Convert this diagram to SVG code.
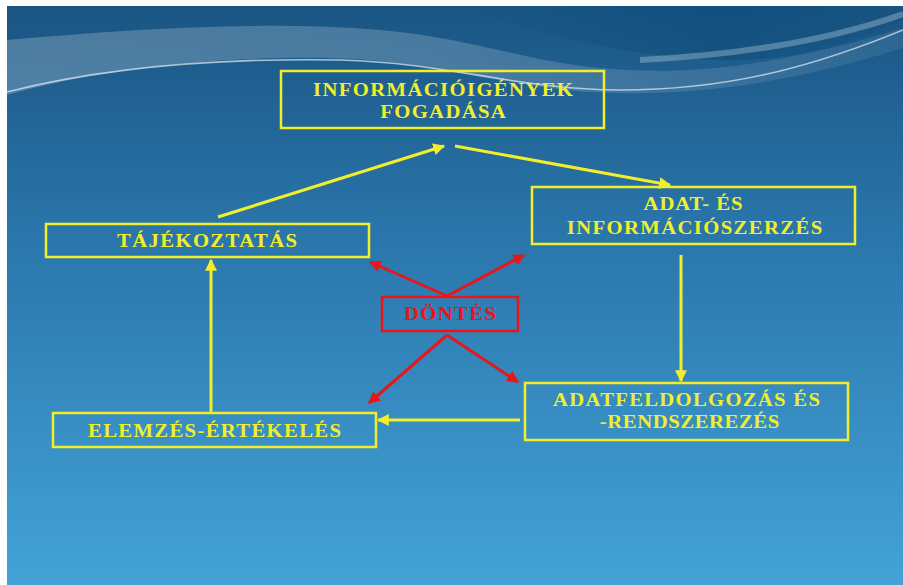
<svg xmlns="http://www.w3.org/2000/svg" width="903" height="585" viewBox="0 0 903 585">
  <defs>
    <linearGradient id="bg" x1="0" y1="0" x2="0" y2="1">
      <stop offset="0" stop-color="#1a5583"/>
      <stop offset="0.4" stop-color="#2a76ab"/>
      <stop offset="1" stop-color="#43a3d7"/>
    </linearGradient>
    <linearGradient id="swoosh" x1="0" y1="0" x2="1" y2="0">
      <stop offset="0" stop-color="#7e9fb8" stop-opacity="0.5"/>
      <stop offset="0.5" stop-color="#8aa8bf" stop-opacity="0.4"/>
      <stop offset="1" stop-color="#6d98b8" stop-opacity="0.2"/>
    </linearGradient>
    <linearGradient id="darkband" x1="0" y1="0" x2="1" y2="0">
      <stop offset="0" stop-color="#0d4a7a" stop-opacity="0"/>
      <stop offset="0.6" stop-color="#0d4a7a" stop-opacity="0.55"/>
      <stop offset="1" stop-color="#0d4a7a" stop-opacity="0.2"/>
    </linearGradient>
    <marker id="ay" viewBox="0 0 10 10" refX="9" refY="5" markerWidth="4" markerHeight="4" orient="auto" markerUnits="strokeWidth">
      <path d="M0,0 L10,5 L0,10 z" fill="#f2ee2c"/>
    </marker>
    <marker id="ar" viewBox="0 0 10 10" refX="9" refY="5" markerWidth="4" markerHeight="4" orient="auto" markerUnits="strokeWidth">
      <path d="M0,0 L10,5 L0,10 z" fill="#e8161b"/>
    </marker>
  </defs>
  <style>
    .box { fill: none; stroke: #f2ee2c; stroke-width: 2.5; }
    .rbox { fill: none; stroke: #e8161b; stroke-width: 2.5; }
    .t { font-family: "Liberation Serif", "Times New Roman", serif; font-weight: bold; font-size: 18px; fill: #f2ee2c; text-anchor: middle; }
    .rt { fill: #e8161b; }
    .ly { fill: none; stroke: #f2ee2c; stroke-width: 3; marker-end: url(#ay); }
    .lr { fill: none; stroke: #e8161b; stroke-width: 3; marker-end: url(#ar); }
  </style>

  <!-- page -->
  <rect x="0" y="0" width="903" height="585" fill="#ffffff"/>
  <rect x="7" y="6" width="896" height="579" fill="url(#bg)"/>

  <!-- decorative swooshes along the top -->
  <g id="backdrop">
    <path d="M7,40 C120,30 260,20 380,30 C470,38 520,60 600,68 C700,78 800,60 903,28 L903,48 C800,80 700,98 590,92 C500,86 430,60 330,58 C200,56 90,72 7,95 Z" fill="url(#swoosh)"/>
    <path d="M450,6 C520,25 600,55 720,60 C800,62 860,40 903,20 L903,6 Z" fill="url(#darkband)"/>
    <path d="M7,92 C110,66 230,58 340,60 C450,63 520,90 620,90 C740,90 830,60 903,30" fill="none" stroke="#d8e4ec" stroke-opacity="0.75" stroke-width="1.6"/>
    <path d="M640,60 C740,55 830,40 903,14" fill="none" stroke="#c5d6e3" stroke-opacity="0.35" stroke-width="6"/>
  </g>

  <!-- connectors -->
  <g id="connectors">
    <line class="ly" x1="218" y1="217" x2="444" y2="146"/>
    <line class="ly" x1="455" y1="146" x2="670" y2="185"/>
    <line class="ly" x1="681" y1="255" x2="681" y2="381"/>
    <line class="ly" x1="520" y1="420" x2="378" y2="420"/>
    <line class="ly" x1="211" y1="412" x2="211" y2="260"/>
    <line class="lr" x1="447" y1="296" x2="370" y2="262"/>
    <line class="lr" x1="447" y1="296" x2="524" y2="255"/>
    <line class="lr" x1="447" y1="335" x2="369" y2="403"/>
    <line class="lr" x1="447" y1="335" x2="518" y2="382"/>
  </g>

  <!-- nodes (labels widened 1.15x about their centre) -->
  <g id="n-fogadasa">
    <rect class="box" x="281" y="71" width="323" height="57"/>
    <text class="t" x="443" y="96" textLength="226" lengthAdjust="spacing" transform="matrix(1.15 0 0 1 -66.45 0)">INFORMÁCIÓIGÉNYEK</text>
    <text class="t" x="443" y="118" textLength="109" lengthAdjust="spacing" transform="matrix(1.15 0 0 1 -66.45 0)">FOGADÁSA</text>
  </g>
  <g id="n-szerzes">
    <rect class="box" x="532" y="187" width="323" height="57"/>
    <text class="t" x="693" y="210" textLength="86" lengthAdjust="spacing" transform="matrix(1.15 0 0 1 -103.95 0)">ADAT- ÉS</text>
    <text class="t" x="694.5" y="234" textLength="222" lengthAdjust="spacing" transform="matrix(1.15 0 0 1 -104.18 0)">INFORMÁCIÓSZERZÉS</text>
  </g>
  <g id="n-tajekoztatas">
    <rect class="box" x="46" y="224" width="323" height="33"/>
    <text class="t" x="207" y="247" textLength="156.5" lengthAdjust="spacing" transform="matrix(1.15 0 0 1 -31.05 0)">TÁJÉKOZTATÁS</text>
  </g>
  <g id="n-dontes">
    <rect class="rbox" x="382" y="297" width="136" height="34"/>
    <text class="t rt" x="450" y="320" textLength="80" lengthAdjust="spacing" transform="matrix(1.15 0 0 1 -67.5 0)">DÖNTÉS</text>
  </g>
  <g id="n-feldolgozas">
    <rect class="box" x="525" y="383" width="323" height="57"/>
    <text class="t" x="686.5" y="406" textLength="232" lengthAdjust="spacing" transform="matrix(1.15 0 0 1 -102.98 0)">ADATFELDOLGOZÁS ÉS</text>
    <text class="t" x="689.5" y="428" textLength="156" lengthAdjust="spacing" transform="matrix(1.15 0 0 1 -103.43 0)">-RENDSZEREZÉS</text>
  </g>
  <g id="n-elemzes">
    <rect class="box" x="53" y="413" width="323" height="34"/>
    <text class="t" x="214.5" y="437" textLength="220" lengthAdjust="spacing" transform="matrix(1.15 0 0 1 -32.18 0)">ELEMZÉS-ÉRTÉKELÉS</text>
  </g>
</svg>
